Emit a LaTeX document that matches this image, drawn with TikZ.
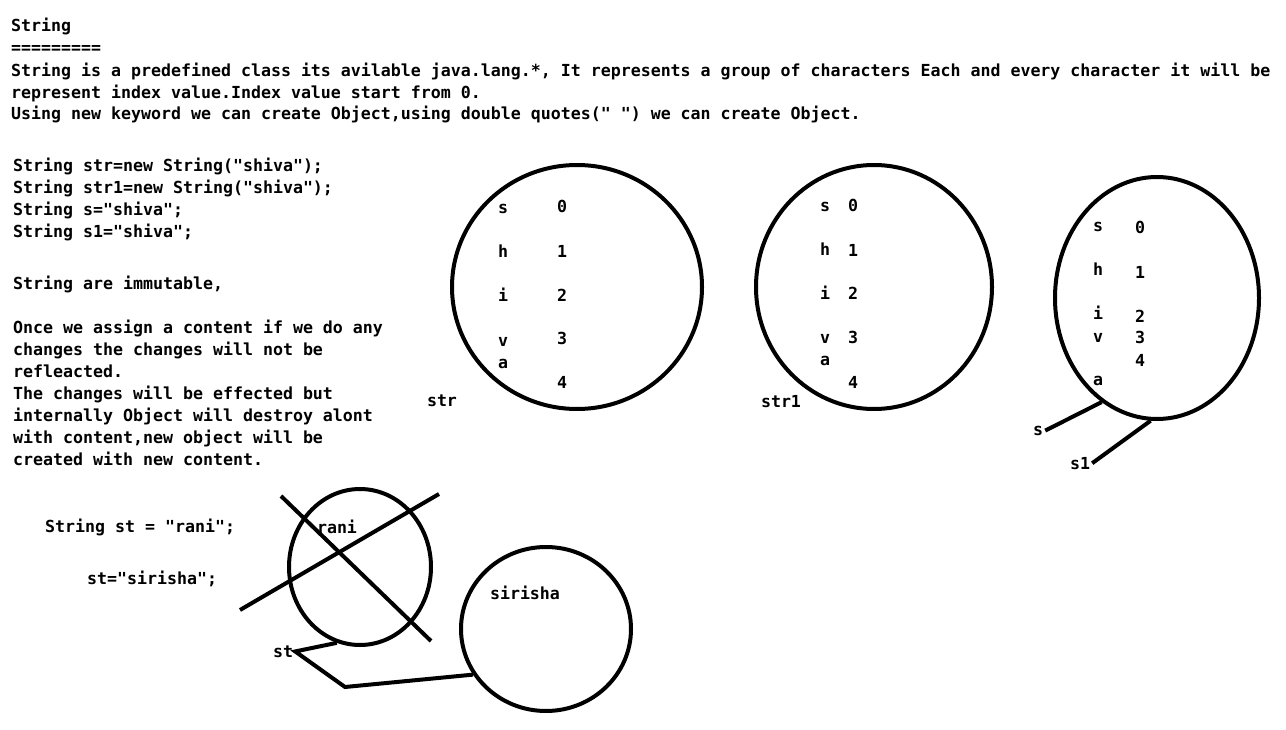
\documentclass[tikz,border=0pt]{standalone}
\usepackage{fontspec}
\setmonofont{DejaVu Sans Mono}
\usetikzlibrary{shapes.geometric}

\begin{document}
\begin{tikzpicture}[x=1pt, y=-1pt,
        txt/.style={anchor=mid west, inner sep=0pt, yshift=-4pt, font=\ttfamily\bfseries\fontsize{16.6pt}{22pt}\selectfont},
        chr/.style={anchor=mid, inner sep=0pt, yshift=-4pt, font=\ttfamily\bfseries\fontsize{16.6pt}{22pt}\selectfont},
        obj/.style={draw, ellipse, line width=4pt, inner sep=0pt},
        ref/.style={line width=4pt}
    ]
    \useasboundingbox (0,0) rectangle (1286,730);

    % Titel und Einleitung
    \node[txt] (title) at (11,25) {String};
    \node[txt] (rule) at (11,47) {=========};
    \node[txt] (introA) at (11,70) {String is a predefined class its avilable java.lang.*, It represents a group of characters Each and every character it will be};
    \node[txt] (introB) at (11,92) {represent index value.Index value start from 0.};
    \node[txt] (introC) at (11,113) {Using new keyword we can create Object,using double quotes(" ") we can create Object.};

    % Code
    \node[txt] (codeA) at (13,165) {String str=new String("shiva");};
    \node[txt] (codeB) at (13,187) {String str1=new String("shiva");};
    \node[txt] (codeC) at (13,209) {String s="shiva";};
    \node[txt] (codeD) at (13,231) {String s1="shiva";};

    % Immutable
    \node[txt] (immut) at (13,283) {String are immutable,};
    \node[txt] (noteA) at (13,327) {Once we assign a content if we do any};
    \node[txt] (noteB) at (13,349) {changes the changes will not be};
    \node[txt] (noteC) at (13,371) {refleacted.};
    \node[txt] (noteD) at (13,393) {The changes will be effected but};
    \node[txt] (noteE) at (13,415) {internally Object will destroy alont};
    \node[txt] (noteF) at (13,437) {with content,new object will be};
    \node[txt] (noteG) at (13,459) {created with new content.};

    % Objekt str
    \node[obj, minimum width=250pt, minimum height=244pt] (objStr) at (577,287) {};
    \node[chr] (strS) at (503,207) {s};
    \node[chr] (strH) at (503,251) {h};
    \node[chr] (strI) at (503,295) {i};
    \node[chr] (strV) at (503,340) {v};
    \node[chr] (strA) at (503,362) {a};
    \node[chr] (strN0) at (562,206) {0};
    \node[chr] (strN1) at (562,251) {1};
    \node[chr] (strN2) at (562,295) {2};
    \node[chr] (strN3) at (562,338) {3};
    \node[chr] (strN4) at (562,382) {4};
    \node[chr] (lblStr) at (442,400) {str};

    % Objekt str1
    \node[obj, minimum width=236pt, minimum height=244pt] (objStrA) at (874,287) {};
    \node[chr] (strAS) at (825,205) {s};
    \node[chr] (strAH) at (825,249) {h};
    \node[chr] (strAI) at (825,293) {i};
    \node[chr] (strAV) at (825,337) {v};
    \node[chr] (strAA) at (825,359) {a};
    \node[chr] (strAN0) at (853,205) {0};
    \node[chr] (strAN1) at (853,250) {1};
    \node[chr] (strAN2) at (853,293) {2};
    \node[chr] (strAN3) at (853,337) {3};
    \node[chr] (strAN4) at (853,382) {4};
    \node[chr] (lblStrA) at (781,401) {str1};

    % Objekt im Pool (s, s1)
    \node[obj, minimum width=204pt, minimum height=242pt] (objPool) at (1157,298) {};
    \node[chr] (poolS) at (1098,225) {s};
    \node[chr] (poolH) at (1098,269) {h};
    \node[chr] (poolI) at (1098,313) {i};
    \node[chr] (poolV) at (1098,336) {v};
    \node[chr] (poolA) at (1098,379) {a};
    \node[chr] (poolN0) at (1140,227) {0};
    \node[chr] (poolN1) at (1140,272) {1};
    \node[chr] (poolN2) at (1140,316) {2};
    \node[chr] (poolN3) at (1140,337) {3};
    \node[chr] (poolN4) at (1140,360) {4};
    \node[chr, inner sep=2pt] (lblS) at (1038,429) {s};
    \node[chr, inner sep=2pt] (lblSA) at (1080,463) {s1};

    \draw[ref] (lblS.east) -- (objPool.242);
    \draw[ref] (lblSA.east) -- (objPool.267);

    % rani / sirisha
    \node[txt] (codeRani) at (45,526) {String st = "rani";};
    \node[txt] (codeSir) at (87,578) {st="sirisha";};

    \node[obj, minimum width=142pt, minimum height=156pt] (objRani) at (360,567) {};
    \node[chr] (txtRani) at (337,527) {rani};
    \coordinate (crossA1) at (281,496);
    \coordinate (crossA2) at (431,641);
    \coordinate (crossB1) at (439,494);
    \coordinate (crossB2) at (240,610);
    \draw[ref] (crossA1) -- (crossA2);
    \draw[ref] (crossB1) -- (crossB2);

    \node[obj, minimum width=170pt, minimum height=164pt] (objSir) at (546,629) {};
    \node[chr] (txtSir) at (525,593) {sirisha};

    \node[chr, inner sep=2pt] (lblSt) at (283,651) {st};
    \coordinate (stBend) at (345,687);
    \draw[ref] (objRani.253) -- (lblSt.east) -- (stBend) -- (objSir.212);

\end{tikzpicture}
\end{document}
